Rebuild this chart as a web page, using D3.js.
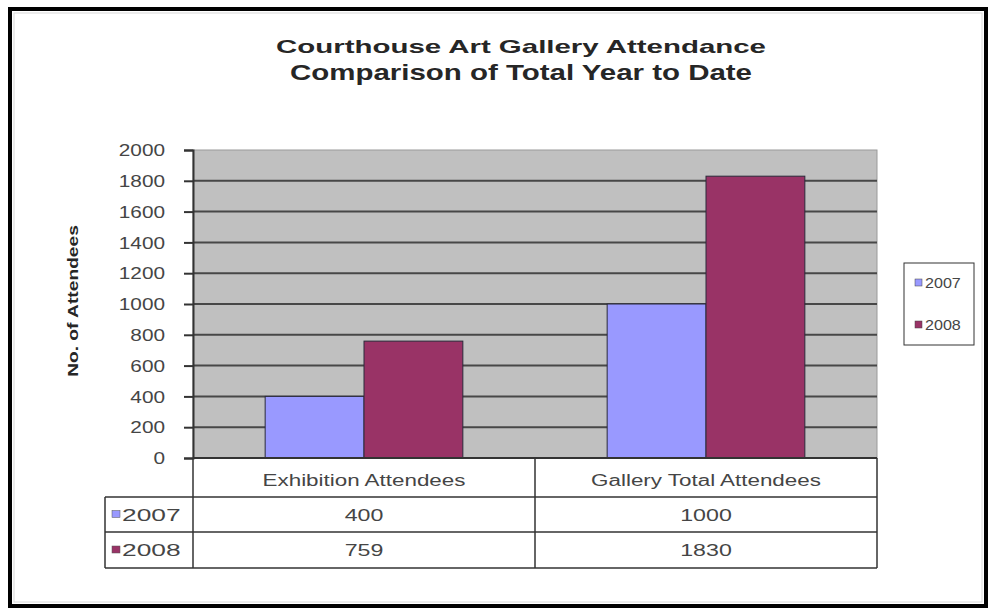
<!DOCTYPE html>
<html>
<head>
<meta charset="utf-8">
<script src="https://cdn.jsdelivr.net/npm/d3@7"></script>
<style>
  body { margin: 0; background: #fff; }
  svg { display: block; font-family: "Liberation Sans", Arial, sans-serif; }
</style>
</head>
<body>
<svg id="chart" width="988" height="613"></svg>
<script>
// ---- data ----
const titleLine1 = "Courthouse Art Gallery Attendance";
const titleLine2 = "Comparison of Total Year to Date";
const yAxisTitle = "No. of Attendees";
const categories = ["Exhibition Attendees", "Gallery Total Attendees"];
const seriesNames = ["2007", "2008"];
const values2007 = [400, 1000];
const values2008 = [759, 1830];
const yTicks = [0, 200, 400, 600, 800, 1000, 1200, 1400, 1600, 1800, 2000];

const seriesValues = [values2007, values2008];
const seriesColors = ["#9999ff", "#993366"];

// ---- layout ----
const svg = d3.select("#chart");
const plot = { left: 193, right: 877, top: 150, bottom: 458 };
const tableRows = [458, 497, 532, 568];   // header row + one row per series
const tableLeft = 105;
const textColor = "#454545";

// frame around the whole chart
svg.append("rect")
  .attr("x", 10).attr("y", 9).attr("width", 976).attr("height", 597)
  .attr("fill", "#fff").attr("stroke", "#000").attr("stroke-width", 4);
svg.append("rect")
  .attr("x", 14).attr("y", 13).attr("width", 968).attr("height", 589)
  .attr("fill", "none").attr("stroke", "#d8d8d8").attr("stroke-width", 1);

// titles
function fitted(sel, width) {
  return sel.attr("textLength", width).attr("lengthAdjust", "spacingAndGlyphs");
}
fitted(svg.append("text")
  .attr("x", 521).attr("y", 53).attr("text-anchor", "middle")
  .attr("font-size", 19).attr("font-weight", "bold").attr("fill", "#262626")
  .text(titleLine1), 490);
fitted(svg.append("text")
  .attr("x", 521).attr("y", 80).attr("text-anchor", "middle")
  .attr("font-size", 22).attr("font-weight", "bold").attr("fill", "#262626")
  .text(titleLine2), 462);

// scales
const y = d3.scaleLinear().domain([0, 2000]).range([plot.bottom, plot.top]);
const x0 = d3.scaleBand().domain(categories).range([plot.left, plot.right]).padding(0);
const x1 = d3.scaleBand().domain(seriesNames).range([0, x0.bandwidth()])
  .paddingInner(0).paddingOuter(0.73);

// plot area
svg.append("rect")
  .attr("x", plot.left).attr("y", plot.top)
  .attr("width", plot.right - plot.left).attr("height", plot.bottom - plot.top)
  .attr("fill", "#c0c0c0").attr("stroke", "#9a9a9a").attr("stroke-width", 1);

// gridlines
svg.append("g")
  .selectAll("line")
  .data(yTicks.filter(t => t > 0 && t < 2000))
  .join("line")
  .attr("x1", plot.left).attr("x2", plot.right)
  .attr("y1", d => y(d)).attr("y2", d => y(d))
  .attr("stroke", "#474747").attr("stroke-width", 2);

// bars
const bars = svg.append("g");
seriesNames.forEach((s, si) => {
  bars.selectAll("rect.s" + si)
    .data(categories.map((c, ci) => ({ c, v: seriesValues[si][ci] })))
    .join("rect")
    .attr("class", "s" + si)
    .attr("x", d => x0(d.c) + x1(s))
    .attr("y", d => y(d.v))
    .attr("width", x1.bandwidth())
    .attr("height", d => y(0) - y(d.v))
    .attr("fill", seriesColors[si])
    .attr("stroke", "#2a2a3a").attr("stroke-width", 1);
});

// y axis
const tickSx = 1.3;
const yAxis = svg.append("g")
  .attr("transform", `translate(${plot.left},0)`)
  .call(d3.axisLeft(y).tickValues(yTicks).tickSize(9).tickFormat(d3.format("d")));
yAxis.select(".domain").attr("stroke", "#333").attr("stroke-width", 2);
yAxis.selectAll(".tick line").attr("stroke", "#333").attr("stroke-width", 2);
yAxis.selectAll(".tick text")
  .attr("x", -28 / tickSx).attr("dy", "0.36em")
  .attr("transform", `scale(${tickSx},1)`)
  .attr("font-size", 16).attr("fill", textColor)
  .attr("font-family", "'Liberation Sans', Arial, sans-serif");

// y axis title
svg.append("text")
  .attr("transform", "translate(78,301) rotate(-90) scale(1.28,1)")
  .attr("text-anchor", "middle")
  .attr("font-size", 15).attr("font-weight", "bold").attr("fill", "#262626")
  .text(yAxisTitle);

// data table grid
const grid = svg.append("g").attr("stroke", "#333").attr("stroke-width", 1.5);
grid.append("line").attr("x1", plot.left).attr("x2", plot.right)
  .attr("y1", tableRows[0]).attr("y2", tableRows[0]).attr("stroke-width", 2);
tableRows.slice(1).forEach(r => {
  grid.append("line").attr("x1", tableLeft).attr("x2", plot.right)
    .attr("y1", r).attr("y2", r);
});
grid.append("line").attr("x1", tableLeft).attr("x2", tableLeft)
  .attr("y1", tableRows[1]).attr("y2", tableRows[3]);
[plot.left, x0(categories[1]), plot.right].forEach(xx => {
  grid.append("line").attr("x1", xx).attr("x2", xx)
    .attr("y1", tableRows[0]).attr("y2", tableRows[3]);
});

// stretched text helper
function stretchedText(g, x, yy, str, opts) {
  return g.append("text")
    .attr("transform", `translate(${x},${yy}) scale(${opts.sx},1)`)
    .attr("text-anchor", opts.anchor || "middle")
    .attr("font-size", opts.size)
    .attr("fill", textColor)
    .text(str);
}

const table = svg.append("g");
categories.forEach((c, ci) => {
  const cx = x0(c) + x0.bandwidth() / 2;
  stretchedText(table, cx, 486, c, { size: 16, sx: 1.4 });
  seriesNames.forEach((s, si) => {
    const rowMid = (tableRows[si + 1] + tableRows[si + 2]) / 2;
    stretchedText(table, cx, rowMid + 6, String(seriesValues[si][ci]), { size: 16, sx: 1.45 });
  });
});

seriesNames.forEach((s, si) => {
  const rowMid = (tableRows[si + 1] + tableRows[si + 2]) / 2;
  table.append("rect")
    .attr("x", 112).attr("y", rowMid - 4).attr("width", 8).attr("height", 7)
    .attr("fill", seriesColors[si]).attr("stroke", "#555").attr("stroke-width", 0.5);
  stretchedText(table, 122, rowMid + 6, s, { size: 17, anchor: "start", sx: 1.55 });
});

// legend
const legend = svg.append("g");
legend.append("rect")
  .attr("x", 904).attr("y", 263).attr("width", 70).attr("height", 82)
  .attr("fill", "#fff").attr("stroke", "#333").attr("stroke-width", 1);
const legendRows = [283, 325];
seriesNames.forEach((s, si) => {
  legend.append("rect")
    .attr("x", 915).attr("y", legendRows[si] - 4).attr("width", 7).attr("height", 7)
    .attr("fill", seriesColors[si]).attr("stroke", "#444").attr("stroke-width", 0.5);
  stretchedText(legend, 925, legendRows[si] + 5, s, { size: 14, anchor: "start", sx: 1.15 });
});
</script>
</body>
</html>
